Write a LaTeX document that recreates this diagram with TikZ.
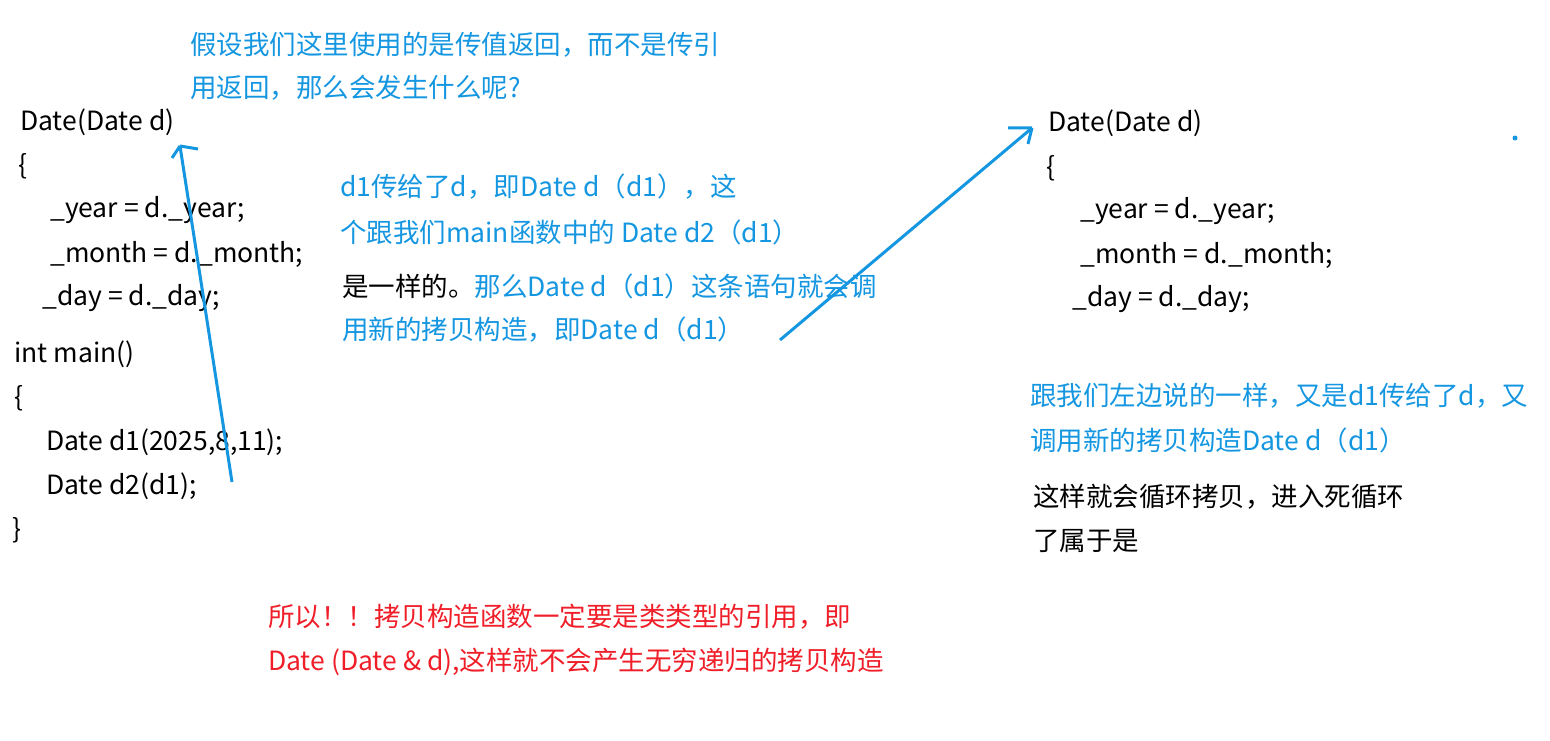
\documentclass[tikz,border=0pt]{standalone}
\usepackage{fontspec}
\setmainfont{Noto Sans CJK SC}
\definecolor{tblue}{RGB}{20,150,225}
\definecolor{tred}{RGB}{240,30,40}
\begin{document}
\begin{tikzpicture}[x=1pt,y=-1pt,
  t/.style={anchor=west,inner sep=0pt,font=\fontsize{26.5}{30}\selectfont},
  b/.style={t,text=tblue},
  r/.style={t,text=tred}]
\useasboundingbox (0,0) rectangle (1550,741);
\node[b] (q1) at (190,45) {假设我们这里使用的是传值返回，而不是传引};
\node[b] (q2) at (190,88) {用返回，那么会发生什么呢?};
\node[t] (l1) at (20,122) {Date(Date d)};
\node[t] (l2) at (18,166) {\{};
\node[t] (l3) at (50,210) {\_year = d.\_year;};
\node[t] (l4) at (50,254) {\_month = d.\_month;};
\node[t] (l5) at (42,298) {\_day = d.\_day;};
\node[t] (l6) at (14,354) {int main()};
\node[t] (l7) at (14,398) {\{};
\node[t] (l8) at (46,442) {Date d1(2025,8,11);};
\node[t] (l9) at (46,486) {Date d2(d1);};
\node[t] (l10) at (12,530) {\}};
\node[b] (m1) at (340,187) {d1传给了d，即Date d（d1），这};
\node[b] (m2) at (340,232) {个跟我们main函数中的 Date d2（d1）};
\node[t] (m3) at (342,286) {是一样的。\textcolor{tblue}{那么Date d（d1）这条语句就会调}};
\node[b] (m4) at (342,330) {用新的拷贝构造，即Date d（d1）};
\node[t] (r1) at (1048,123) {Date(Date d)};
\node[t] (r2) at (1046,168) {\{};
\node[t] (r3) at (1080,211) {\_year = d.\_year;};
\node[t] (r4) at (1080,255) {\_month = d.\_month;};
\node[t] (r5) at (1072,299) {\_day = d.\_day;};
\node[b] (s1) at (1030,396) {跟我们左边说的一样，又是d1传给了d，又};
\node[b] (s2) at (1030,440) {调用新的拷贝构造Date d（d1）};
\node[t] (s3) at (1033,497) {这样就会循环拷贝，进入死循环};
\node[t] (s4) at (1033,541) {了属于是};
\node[r] (z1) at (268,617) {所以！！拷贝构造函数一定要是类类型的引用，即};
\node[r] (z2) at (268,662) {Date (Date \& d),这样就不会产生无穷递归的拷贝构造};
\coordinate (a1s) at (232,482);
\coordinate (a1e) at (180,146);
\coordinate (a2s) at (780,340);
\coordinate (a2e) at (1032,128);
\draw[tblue,line width=3pt] (a1s) -- (a1e);
\draw[tblue,line width=3pt] (a1e) -- ++(-8,12) (a1e) -- ++(18,3);
\draw[tblue,line width=3pt] (a2s) -- (a2e);
\draw[tblue,line width=3pt] (a2e) -- ++(-24,0) (a2e) -- ++(-4,16);
\fill[tblue] (1515,138) circle (2.5);
\end{tikzpicture}
\end{document}
